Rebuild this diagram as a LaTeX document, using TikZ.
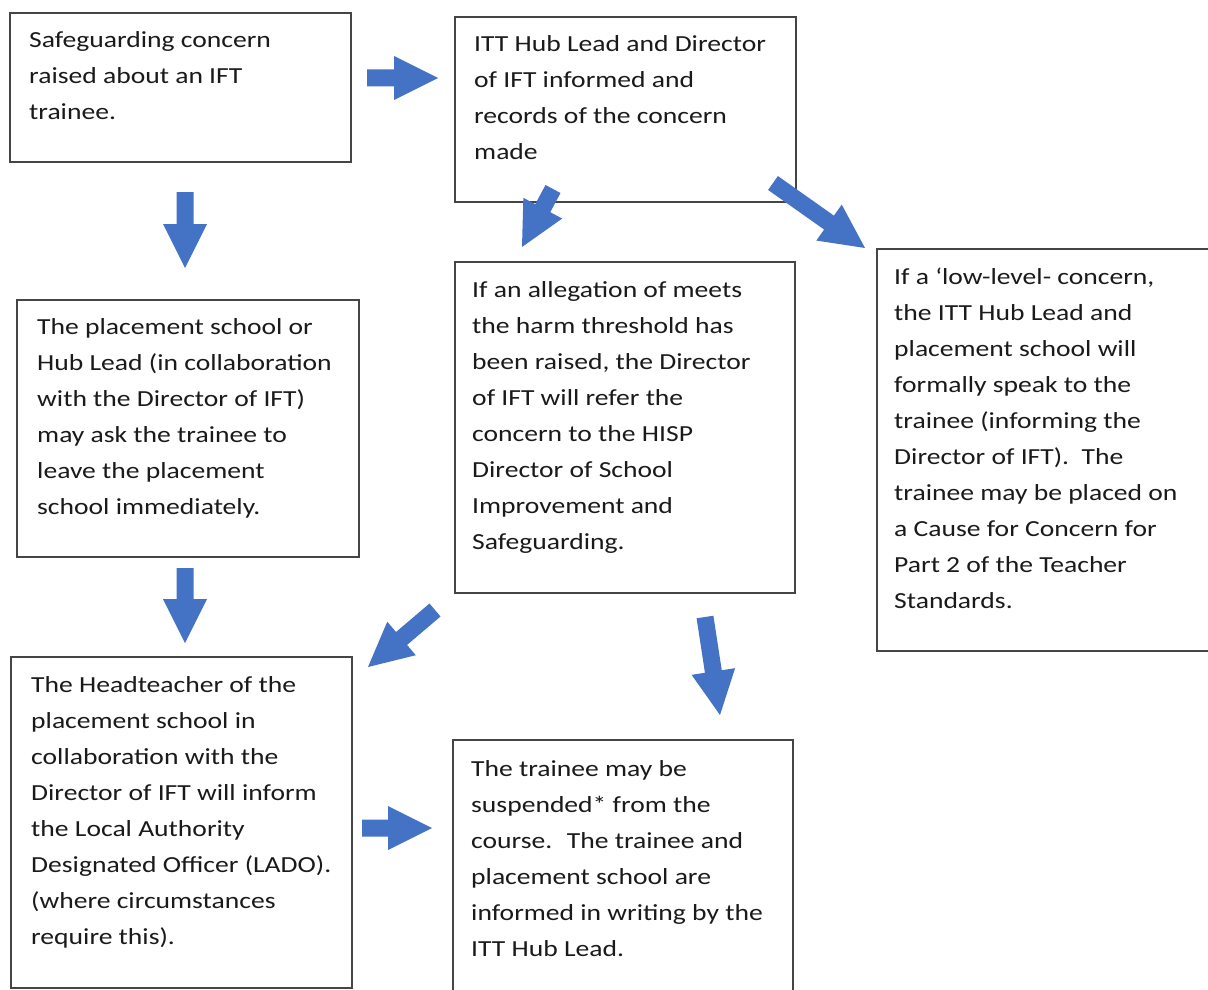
\documentclass[tikz,border=0pt]{standalone}
\usepackage{fontspec}
\setmainfont{Carlito}[FakeStretch=1.2]
\usetikzlibrary{calc}
\definecolor{arrowblue}{HTML}{4472C4}
\definecolor{boxline}{HTML}{454545}
\definecolor{txt}{HTML}{1A1A1A}
\tikzset{
  box/.style={draw=boxline, line width=2pt, rectangle, inner sep=0pt},
  boxtext/.style={anchor=base west, inner sep=0pt, text=txt},
  blockfill/.style={fill=arrowblue}
}
\newcommand\btext[1]{\parbox[t]{420pt}{\fontsize{23}{36}\selectfont\raggedright #1}}
\newcommand\blockarrow[2]{\fill[blockfill] let \p1=(#1), \p2=(#2), \n1={atan2(\y2-\y1,\x2-\x1)}, \n2={veclen(\x2-\x1,\y2-\y1)} in [shift={(\p1)}, rotate=\n1] (0,8.5) -- (\n2-44,8.5) -- (\n2-44,22) -- (\n2,0) -- (\n2-44,-22) -- (\n2-44,-8.5) -- (0,-8.5) -- cycle;}
\begin{document}
\begin{tikzpicture}[x=1pt,y=-1pt]
\useasboundingbox (0,0) rectangle (1208,990);
\clip (0,0) rectangle (1208,990);
\fill[white] (0,0) rectangle (1208,990);
% boxes
\node[box, minimum width=341pt, minimum height=149pt] (b1) at (180.5,87.5) {};
\node[box, minimum width=341pt, minimum height=185pt] (b2) at (625.5,109.5) {};
\node[box, minimum width=338pt, minimum height=402pt] (b3) at (1046,450) {};
\node[box, minimum width=342pt, minimum height=257pt] (b4) at (188,428.5) {};
\node[box, minimum width=340pt, minimum height=331pt] (b5) at (625,427.5) {};
\node[box, minimum width=341pt, minimum height=331pt] (b6) at (181.5,822.5) {};
\node[box, minimum width=340pt, minimum height=260pt] (b7) at (623,870) {};
% texts
\node[boxtext] (t1) at ($(b1.north west)+(20,36)$) {\btext{Safeguarding concern\\raised about an IFT\\trainee.}};
\node[boxtext] (t2) at ($(b2.north west)+(20,36)$) {\btext{ITT Hub Lead and Director\\of IFT informed and\\records of the concern\\made}};
\node[boxtext] (t3) at ($(b3.north west)+(18,36)$) {\btext{If a ‘low-level- concern,\\the ITT Hub Lead and\\placement school will\\formally speak to the\\trainee (informing the\\Director of IFT).~ The\\trainee may be placed on\\a Cause for Concern for\\Part 2 of the Teacher\\Standards.}};
\node[boxtext] (t4) at ($(b4.north west)+(21,35)$) {\btext{The placement school or\\Hub Lead (in collaboration\\with the Director of IFT)\\may ask the trainee to\\leave the placement\\school immediately.}};
\node[boxtext] (t5) at ($(b5.north west)+(18,36)$) {\btext{If an allegation of meets\\the harm threshold has\\been raised, the Director\\of IFT will refer the\\concern to the HISP\\Director of School\\Improvement and\\Safeguarding.}};
\node[boxtext] (t6) at ($(b6.north west)+(21,36)$) {\btext{The Headteacher of the\\placement school in\\collaboration with the\\Director of IFT will inform\\the Local Authority\\Designated Officer (LADO).\\(where circumstances\\require this).}};
\node[boxtext] (t7) at ($(b7.north west)+(19,37)$) {\btext{The trainee may be\\suspended* from the\\course.~ The trainee and\\placement school are\\informed in writing by the\\ITT Hub Lead.}};
% arrow end points
\coordinate (a1s) at (367,78);  \coordinate (a1e) at (438,78);
\coordinate (a2s) at (185,192); \coordinate (a2e) at (185,268);
\coordinate (a3s) at (553,189); \coordinate (a3e) at (522,247);
\coordinate (a4s) at (773,183); \coordinate (a4e) at (865,248);
\coordinate (a5s) at (435,610); \coordinate (a5e) at (368,667);
\coordinate (a6s) at (705,617); \coordinate (a6e) at (720,715);
\coordinate (a7s) at (185,568); \coordinate (a7e) at (185,643);
\coordinate (a8s) at (362,828); \coordinate (a8e) at (432,828);
\blockarrow{a1s}{a1e}
\blockarrow{a2s}{a2e}
\blockarrow{a3s}{a3e}
\blockarrow{a4s}{a4e}
\blockarrow{a5s}{a5e}
\blockarrow{a6s}{a6e}
\blockarrow{a7s}{a7e}
\blockarrow{a8s}{a8e}
\end{tikzpicture}
\end{document}
